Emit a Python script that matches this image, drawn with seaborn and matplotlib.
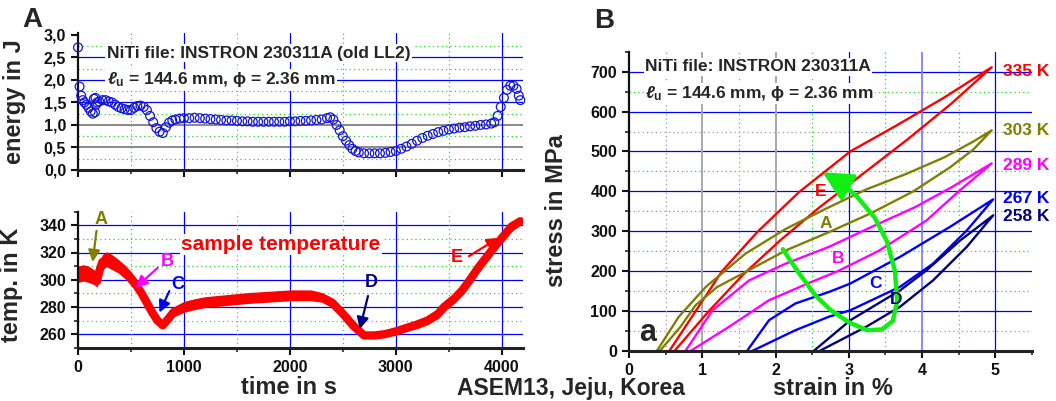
import matplotlib
matplotlib.use("Agg")
import matplotlib.pyplot as plt
import numpy as np
import seaborn as sns

# ---------------- data ----------------
# panel A top: energy per cycle (open circles)
energy_time = [0, 15, 30, 45, 60, 80, 100, 120, 140, 160, 170, 165, 150, 180, 200, 230, 260,
               290, 320, 350, 380, 410, 440, 470, 500, 530, 560, 590, 620, 650, 680, 710,
               740, 770, 800, 830, 860, 890, 920, 960, 1000, 1050, 1100, 1150, 1200, 1250,
               1300, 1350, 1400, 1450, 1500, 1550, 1600, 1650, 1700, 1750, 1800, 1850, 1900,
               1950, 2000, 2050, 2100, 2150, 2200, 2250, 2300, 2350, 2380, 2410, 2440, 2470,
               2500, 2530, 2560, 2590, 2620, 2650, 2700, 2750, 2800, 2850, 2900, 2950, 3000,
               3050, 3100, 3150, 3200, 3250, 3300, 3350, 3400, 3450, 3500, 3550, 3600, 3650,
               3700, 3750, 3800, 3850, 3900, 3930, 3960, 3990, 4020, 4050, 4080, 4110, 4140,
               4160, 4175]
energy_val = [2.72, 1.85, 1.65, 1.55, 1.5, 1.45, 1.38, 1.3, 1.25, 1.28, 1.45, 1.6, 1.58, 1.5,
              1.52, 1.55, 1.55, 1.52, 1.5, 1.45, 1.4, 1.37, 1.35, 1.33, 1.33, 1.38, 1.42, 1.43,
              1.4, 1.33, 1.2, 1.06, 0.93, 0.85, 0.82, 0.95, 1.05, 1.1, 1.12, 1.14, 1.15, 1.15,
              1.16, 1.15, 1.14, 1.13, 1.12, 1.11, 1.1, 1.1, 1.09, 1.08, 1.08, 1.07, 1.07, 1.07,
              1.07, 1.07, 1.07, 1.07, 1.08, 1.08, 1.09, 1.09, 1.1, 1.11, 1.12, 1.15, 1.17, 1.12,
              1.0, 0.88, 0.75, 0.65, 0.55, 0.47, 0.42, 0.39, 0.37, 0.37, 0.37, 0.37, 0.38, 0.4,
              0.42, 0.47, 0.52, 0.58, 0.65, 0.71, 0.76, 0.8, 0.84, 0.87, 0.9, 0.92, 0.94, 0.95,
              0.97, 0.98, 1.0, 1.01, 1.03, 1.06, 1.2, 1.4, 1.6, 1.78, 1.87, 1.87, 1.8, 1.65,
              1.55]
energy_tick_labels = ["0,0", "0,5", "1,0", "1,5", "2,0", "2,5", "3,0"]

# panel A bottom: sample temperature (centre of the oscillation band and half width)
temp_time = [0, 50, 100, 150, 180, 200, 230, 270, 320, 380, 440, 500, 550, 600, 650, 700,
             750, 800, 850, 900, 1000, 1100, 1200, 1400, 1600, 1800, 2000, 2200, 2300, 2400,
             2500, 2600, 2700, 2800, 2900, 3000, 3100, 3200, 3300, 3400, 3455, 3550, 3625,
             3700, 3780, 3860, 3940, 4015, 4090, 4175]
temp_mid = [304, 305, 304, 302, 299, 306, 313, 315, 313, 310, 306, 301, 296, 290, 283, 276,
            270, 266.5, 271, 276, 280, 282, 283.5, 285, 286.5, 287.5, 288.5, 288.5, 287, 283,
            275, 266, 259, 259, 260, 262, 264.5, 267, 270, 275, 280, 286, 292, 300, 309, 317,
            325, 332, 339, 343]
temp_half = [6, 6, 6, 5.5, 4.5, 5, 5.5, 5.5, 5.5, 5, 5, 5, 4.5, 4.5, 4, 3.5, 3, 2.5, 3, 3.5,
             4, 4, 4, 4, 4, 4, 4, 4, 3.5, 3.5, 3, 2.5, 2, 2, 2, 2.5, 2.5, 3, 3, 3.5, 3.5, 3.5,
             3.5, 3.5, 3.5, 3.5, 3.5, 3.5, 3.5, 3]

# panel B: stress-strain loops (loading branch followed by unloading branch)
loop_335_strain = [0.55, 0.91, 1.27, 1.75, 2.32, 3.02, 3.65, 4.3, 4.95,
                   4.4, 3.8, 3.2, 2.6, 2.05, 1.55, 1.09, 0.62]
loop_335_stress = [0, 100, 200, 298, 398, 500, 565, 635, 711,
                   620, 530, 445, 360, 275, 190, 100, 0]
loop_303_strain = [0.38, 0.68, 1.05, 1.59, 2.14, 2.68, 3.24, 3.8, 4.3, 4.7, 4.95,
                   4.7, 4.38, 3.88, 3.3, 2.73, 2.14, 1.55, 1.2, 0.91, 0.7, 0.42]
loop_303_stress = [0, 86, 161, 244, 306, 356, 405, 445, 485, 525, 553,
                   505, 460, 400, 345, 298, 252, 194, 160, 115, 60, 0]
loop_289_strain = [0.77, 1.14, 1.64, 2.14, 2.73, 3.3, 3.9, 4.4, 4.95,
                   4.5, 4.06, 3.4, 2.85, 2.45, 1.91, 1.36, 0.84]
loop_289_stress = [0, 102, 177, 219, 261, 310, 360, 410, 470,
                   400, 327, 250, 200, 170, 127, 60, 0]
loop_267_strain = [1.61, 1.91, 2.27, 2.73, 3.02, 3.7, 4.38, 4.97,
                   4.61, 4.15, 3.7, 3.02, 2.73, 2.27, 1.68]
loop_267_stress = [0, 77, 119, 148, 169, 236, 311, 380,
                   302, 219, 161, 102, 86, 52, 0]
loop_258_strain = [2.52, 3.02, 3.7, 4.06, 4.52, 4.97,
                   4.61, 4.15, 3.7, 3.24, 2.6]
loop_258_stress = [0, 77, 152, 202, 277, 340,
                   261, 177, 111, 61, 0]
# green path through the loops (arrow)
path_strain = [2.1, 2.3, 2.55, 2.75, 3.0, 3.25, 3.45, 3.6, 3.66, 3.63, 3.52, 3.35, 3.12, 2.92]
path_stress = [255, 200, 138, 103, 72, 52, 54, 75, 125, 200, 275, 335, 385, 418]

loop_labels = ["335 K", "303 K", "289 K", "267 K", "258 K"]

# ---------------- style ----------------
sns.set_style("ticks")
plt.rcParams["font.family"] = ["Liberation Sans", "DejaVu Sans"]
plt.rcParams["font.weight"] = "bold"
plt.rcParams["axes.labelweight"] = "bold"
plt.rcParams["mathtext.fontset"] = "custom"
plt.rcParams["mathtext.rm"] = "Liberation Sans:bold"
plt.rcParams["mathtext.bf"] = "Liberation Sans:bold"
plt.rcParams["mathtext.it"] = "Liberation Sans:italic:bold"

BLUE = "#0000ff"
GRAY = "#9a9a9a"
GREEN = "#22dd22"
RED = "#ff0000"
OLIVE = "#808000"
MAGENTA = "#ff00ff"
NAVY = "#000080"

W, H = 1056, 401
fig = plt.figure(figsize=(W / 100, H / 100), dpi=100)
ax_e = fig.add_axes([78 / W, 1 - 170 / H, 445 / W, 137 / H])
ax_t = fig.add_axes([78 / W, 1 - 347.7 / H, 445 / W, 136 / H])
ax_s = fig.add_axes([629 / W, 1 - 351 / H, 403 / W, 299.3 / H])


def hlines(ax, vals, color, ls="-", lw=0.9):
    for v in vals:
        ax.axhline(v, color=color, ls=ls, lw=lw, zorder=0.5)


def vlines(ax, vals, color, ls="-", lw=0.9):
    for v in vals:
        ax.axvline(v, color=color, ls=ls, lw=lw, zorder=0.5)


def style_axes(ax):
    sns.despine(ax=ax)
    ax.spines["left"].set_linewidth(1.6)
    ax.spines["bottom"].set_linewidth(2.2)
    ax.spines["left"].set_color("#111111")
    ax.spines["bottom"].set_color("#222222")
    ax.tick_params(which="major", direction="out", length=5, width=1.5, labelsize=11.5,
                   colors="#111111")
    ax.tick_params(which="minor", direction="out", length=3, width=1.2)


def curve(ax, xs, ys, **kw):
    # raw path, no aggregation over repeated x values
    sns.lineplot(x=xs, y=ys, ax=ax, sort=False, estimator=None, errorbar=None, **kw)


dotted = (0, (1, 2.5))

# ---- energy ----
style_axes(ax_e)
ax_e.set_xlim(0, 4200)
ax_e.set_ylim(0, 3.04)
hlines(ax_e, [1.5, 2.0, 2.5], BLUE)
hlines(ax_e, [0.5, 1.0], "#808080", lw=1.3)
hlines(ax_e, [0.25, 0.75, 1.25, 1.75, 2.25, 2.75], GREEN, ls=dotted)
vlines(ax_e, [1000, 2000, 3000, 4000], BLUE)
vlines(ax_e, [500, 2500, 3500], GREEN, ls=dotted)
vlines(ax_e, [1500], GRAY, ls=dotted)
sns.scatterplot(x=energy_time, y=energy_val, ax=ax_e, marker="o", s=40,
                facecolors="none", edgecolors="#1515d8", linewidth=0.9, zorder=3,
                clip_on=False)
ax_e.set_yticks(np.arange(0, 3.01, 0.5))
ax_e.set_yticklabels(energy_tick_labels)
ax_e.set_xticks(np.arange(0, 4001, 1000))
ax_e.set_xticks(np.arange(500, 4200, 1000), minor=True)
ax_e.set_xticklabels([])
ax_e.set_ylabel("energy in J", fontsize=17)
ax_e.yaxis.set_label_coords(-0.117, 0.5)
ax_e.text(272, 2.59, "NiTi file: INSTRON 230311A (old LL2)", fontsize=12.5, va="center",
          bbox=dict(fc="white", ec="none", pad=1), zorder=4)
ax_e.text(272, 2.0, r"$\ell_{\mathbf{u}}$ = 144.6 mm, ϕ = 2.36 mm", fontsize=12.5,
          va="center", bbox=dict(fc="white", ec="none", pad=1), zorder=4)

# ---- temperature ----
style_axes(ax_t)
ax_t.set_xlim(0, 4200)
ax_t.set_ylim(250, 350)
hlines(ax_t, [260, 280, 300, 320, 340], BLUE)
hlines(ax_t, [290, 310, 330], GREEN, ls=dotted)
hlines(ax_t, [270], GRAY, ls=dotted)
vlines(ax_t, [1000, 2000, 3000, 4000], BLUE)
vlines(ax_t, [500, 2500, 3500], GREEN, ls=dotted)
vlines(ax_t, [1500], GRAY, ls=dotted)
lower = np.array(temp_mid) - np.array(temp_half)
upper = np.array(temp_mid) + np.array(temp_half)
ax_t.fill_between(temp_time, lower, upper, color=RED, lw=0, zorder=2)
curve(ax_t, temp_time, temp_mid, color=RED, lw=6, zorder=2)
ax_t.set_yticks(np.arange(260, 341, 20))
ax_t.set_yticks(np.arange(250, 351, 10), minor=True)
ax_t.set_xticks(np.arange(0, 4001, 1000))
ax_t.set_xticks(np.arange(500, 4200, 1000), minor=True)
ax_t.set_ylabel("temp. in K", fontsize=17)
ax_t.yaxis.set_label_coords(-0.124, 0.46)
ax_t.set_xlabel("time in s", fontsize=17)
ax_t.xaxis.set_label_coords(0.474, -0.296)
ax_t.xaxis.label.set_va("center")
ax_t.text(1917, 325.9, "sample temperature", color=RED, fontsize=15, ha="center",
          va="center", bbox=dict(fc="white", ec="none", pad=1), zorder=4)

marks = [("A", OLIVE, (222, 344), (175, 336), (138, 313)),
         ("B", MAGENTA, (846, 313.6), (753, 308.8), (544, 294.1)),
         ("C", BLUE, (940, 296.6), (862, 291.6), (768, 275.8)),
         ("D", NAVY, (2768, 297.8), (2737, 288), (2659, 263.6)),
         ("E", RED, (3580, 316.1), (3690, 317.3), (3971, 330.8))]
for lab, col, tpos, tail, head in marks:
    ax_t.text(*tpos, lab, color=col, fontsize=13, ha="center", va="center", zorder=5)
    ax_t.annotate("", xy=head, xytext=tail, zorder=5,
                  arrowprops=dict(arrowstyle="-|>,head_length=0.5,head_width=0.25",
                                  color=col, lw=1.6, mutation_scale=14, shrinkA=0, shrinkB=0))

# ---- stress-strain ----
style_axes(ax_s)
ax_s.set_xlim(0, 5.5)
ax_s.set_ylim(0, 750)
hlines(ax_s, np.arange(100, 701, 100), BLUE)
hlines(ax_s, [150, 250, 350, 450, 650], GREEN, ls=dotted)
hlines(ax_s, [50, 550], GRAY, ls=dotted)
vlines(ax_s, [1, 2], "#a8a8a8", lw=1.4)
vlines(ax_s, [3, 5], BLUE)
vlines(ax_s, [4], "#8080ff", lw=1.3)
vlines(ax_s, [0.5, 1.5], GRAY, ls=dotted)
vlines(ax_s, [2.5, 3.5, 4.5], GREEN, ls=dotted)

loops = [(loop_335_strain, loop_335_stress, RED),
         (loop_303_strain, loop_303_stress, OLIVE),
         (loop_289_strain, loop_289_stress, MAGENTA),
         (loop_267_strain, loop_267_stress, BLUE),
         (loop_258_strain, loop_258_stress, NAVY)]
label_y = [700, 552, 465, 382, 336]
for (xs, ys, col), lab, ly in zip(loops, loop_labels, label_y):
    curve(ax_s, xs, ys, color=col, lw=1.7, zorder=2)
    ax_s.text(5.1, ly, lab, color=col, fontsize=12.5, va="center", clip_on=False, zorder=5)

curve(ax_s, path_strain, path_stress, color="#11ee11", lw=3.2, zorder=3)
ax_s.annotate("", xy=(2.64, 448), xytext=(2.92, 418), zorder=3,
              arrowprops=dict(arrowstyle="-|>,head_length=0.9,head_width=0.45",
                              color="#11ee11", lw=3, mutation_scale=20, shrinkA=0, shrinkB=0))
for lab, col, x, y in [("E", RED, 2.61, 400), ("A", OLIVE, 2.68, 319), ("B", MAGENTA, 2.85, 232),
                       ("C", BLUE, 3.36, 169), ("D", NAVY, 3.65, 128)]:
    ax_s.text(x, y, lab, color=col, fontsize=12.5, ha="center", va="center", zorder=4)
ax_s.text(0.25, 45, "a", fontsize=22, ha="center", va="center", zorder=4)
ax_s.text(0.22, 712, "NiTi file: INSTRON 230311A", fontsize=12.5, va="center",
          bbox=dict(fc="white", ec="none", pad=1), zorder=4)
ax_s.text(0.22, 645, r"$\ell_{\mathbf{u}}$ = 144.6 mm, ϕ = 2.36 mm", fontsize=12.5,
          va="center", bbox=dict(fc="white", ec="none", pad=1), zorder=4)
ax_s.set_xticks(np.arange(0, 5.01, 1))
ax_s.set_xticks(np.arange(0.5, 5.6, 1), minor=True)
ax_s.set_yticks(np.arange(0, 701, 100))
ax_s.set_yticks(np.arange(50, 751, 100), minor=True)
ax_s.set_xlabel("strain in %", fontsize=17)
ax_s.xaxis.set_label_coords(0.506, -0.124)
ax_s.xaxis.label.set_va("center")
ax_s.set_ylabel("stress in MPa", fontsize=17)
ax_s.yaxis.set_label_coords(-0.151, 0.47)

fig.text(0.031, 0.95, "A", fontsize=20, ha="center", va="center")
fig.text(0.572, 0.948, "B", fontsize=20, ha="center", va="center")
fig.text(0.541, 0.032, "ASEM13, Jeju, Korea", fontsize=16.5, ha="center", va="center")

fig.savefig("out.png", dpi=100)
